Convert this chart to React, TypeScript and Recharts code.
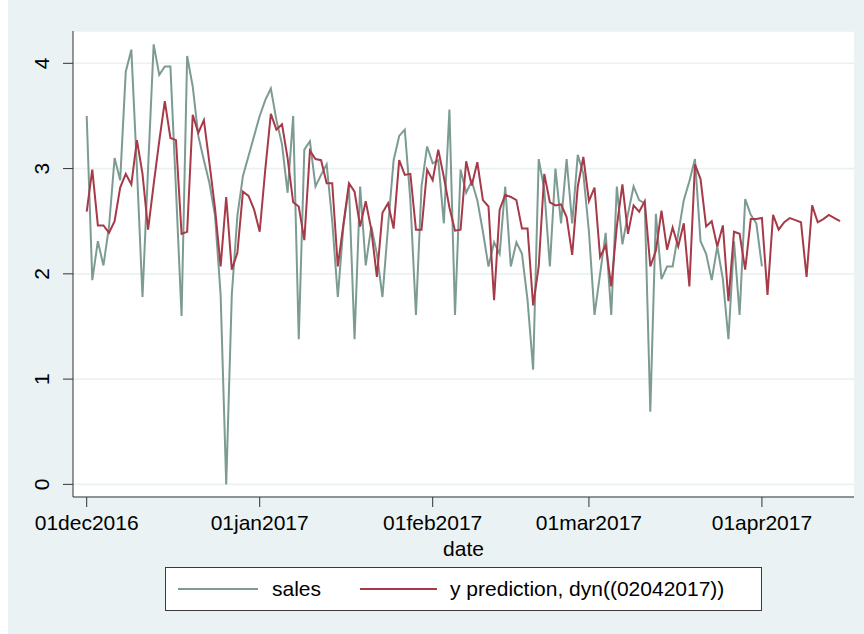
import React from 'react';
import { LineChart, Line, XAxis, YAxis, CartesianGrid, Legend } from 'recharts';

// daily values, index 0 = 01dec2016
const sales = [
  3.5, 1.94, 2.31, 2.08, 2.45, 3.1, 2.89, 3.92, 4.13, 3.0,
  1.78, 3.0, 4.18, 3.89, 3.97, 3.97, 2.8, 1.6, 4.07, 3.78,
  3.31, 3.08, 2.86, 2.55, 1.8, 0.0, 1.8, 2.55, 2.93, 3.12,
  3.31, 3.5, 3.65, 3.76, 3.46, 3.23, 2.77, 3.5, 1.38, 3.18,
  3.26, 2.83, 2.94, 3.04, 2.5, 1.78, 2.45, 2.83, 1.38, 2.83,
  2.08, 2.45, 2.19, 1.78, 2.45, 3.08, 3.31, 3.37, 2.7, 1.61,
  2.83, 3.21, 3.05, 3.08, 2.48, 3.56, 1.61, 2.99, 2.77, 2.88,
  2.7, 2.4, 2.07, 2.3, 2.19, 2.83, 2.07, 2.3, 2.19, 1.75,
  1.09, 3.09, 2.8, 2.07, 3.0, 2.48, 3.09, 2.48, 3.13, 2.95,
  2.4, 1.61, 2.0, 2.39, 1.61, 2.83, 2.28, 2.57, 2.83, 2.7,
  2.67, 0.69, 2.57, 1.95, 2.07, 2.07, 2.38, 2.7, 2.88, 3.09,
  2.31, 2.19, 1.94, 2.26, 1.95, 1.38, 2.31, 1.61, 2.71, 2.56,
  2.48, 2.07,
];

const prediction = [
  2.59, 2.99, 2.46, 2.46, 2.39, 2.5, 2.82, 2.95, 2.85, 3.27,
  2.95, 2.42, 2.85, 3.26, 3.64, 3.29, 3.27, 2.38, 2.4, 3.51,
  3.34, 3.46, 3.05, 2.62, 2.07, 2.73, 2.04, 2.2, 2.78, 2.74,
  2.61, 2.4, 2.99, 3.52, 3.37, 3.42, 3.1, 2.68, 2.64, 2.32,
  3.17, 3.09, 3.08, 2.86, 2.86, 2.07, 2.47, 2.86, 2.78, 2.45,
  2.69, 2.42, 1.97, 2.58, 2.67, 2.43, 3.08, 2.94, 2.95, 2.42,
  2.42, 2.99, 2.89, 3.18, 2.92, 2.63, 2.41, 2.42, 3.07, 2.84,
  3.06, 2.7, 2.64, 1.75, 2.61, 2.75, 2.73, 2.7, 2.43, 2.43,
  1.7, 2.07, 2.95, 2.68, 2.65, 2.66, 2.54, 2.18, 2.83, 3.11,
  2.69, 2.82, 2.16, 2.27, 1.88, 2.45, 2.85, 2.38, 2.65, 2.59,
  2.69, 2.07, 2.22, 2.6, 2.23, 2.44, 2.26, 2.48, 1.88, 3.04,
  2.9, 2.45, 2.5, 2.26, 2.46, 1.74, 2.4, 2.38, 2.04, 2.52,
  2.52, 2.53, 1.8, 2.56, 2.42, 2.49, 2.53, 2.51, 2.49, 1.97,
  2.65, 2.49, 2.52, 2.56, 2.53, 2.5,
];

const dateTicks = [0, 31, 62, 90, 121];
const dateLabels = ['01dec2016', '01jan2017', '01feb2017', '01mar2017', '01apr2017'];
const yTicks = [0, 1, 2, 3, 4];

const FONT = '"Liberation Sans", Arial, Helvetica, sans-serif';
const SALES_COLOR = '#7c9c93';
const PRED_COLOR = '#a63a48';
const BG = '#eaf2f3';

const data = prediction.map((p, i) => ({
  day: i,
  sales: i < sales.length ? sales[i] : null,
  pred: p,
}));

const YTick = (props: any) => {
  const { x, y, payload } = props;
  return (
    <text
      x={x}
      y={y}
      transform={`rotate(-90, ${x}, ${y})`}
      textAnchor="middle"
      dy={7.5}
      fontSize={21}
      fontFamily={FONT}
      fill="#000"
    >
      {payload.value}
    </text>
  );
};

const LegendBox = (props: any) => {
  const items = props.payload || [];
  return (
    <div
      style={{
        boxSizing: 'border-box',
        width: 597,
        height: 44,
        border: '1px solid #3a3a3a',
        background: '#fff',
        display: 'flex',
        alignItems: 'center',
        fontFamily: FONT,
        fontSize: 21,
        color: '#000',
      }}
    >
      {items.map((it: any, i: number) => (
        <React.Fragment key={it.value}>
          <span
            style={{
              display: 'inline-block',
              width: i === 0 ? 80 : 77,
              height: 2,
              background: it.color,
              marginLeft: i === 0 ? 12 : 39,
            }}
          />
          <span style={{ marginLeft: i === 0 ? 14 : 13 }}>{it.value}</span>
        </React.Fragment>
      ))}
    </div>
  );
};

export default function App() {
  return (
    <div style={{ position: 'absolute', left: 0, top: 0, width: 864, height: 634, background: '#fff' }}>
      <div style={{ position: 'absolute', left: 8, top: 0, width: 856, height: 634, background: BG }} />
      <div style={{ position: 'absolute', left: 0, top: 0 }}>
        <LineChart
          width={864}
          height={634}
          data={data}
          margin={{ top: 31, right: 10, bottom: 75, left: 0 }}
        >
          <CartesianGrid vertical={false} stroke={BG} strokeWidth={1.6} fill="#fff" />
          <XAxis
            dataKey="day"
            type="number"
            domain={[-2.455, 137.5]}
            allowDataOverflow
            ticks={dateTicks}
            tickFormatter={(v: number) => dateLabels[dateTicks.indexOf(v)]}
            interval={0}
            height={62}
            tickSize={10}
            tickMargin={8}
            stroke="#333"
            tick={{ fontSize: 21, fill: '#000', fontFamily: FONT }}
            label={{ value: 'date', position: 'insideBottom', offset: 3, fontSize: 21, fill: '#000', fontFamily: FONT }}
          />
          <YAxis
            type="number"
            domain={[-0.12, 4.307]}
            allowDataOverflow
            ticks={yTicks}
            interval={0}
            width={73}
            tickSize={10}
            tickMargin={21}
            stroke="#333"
            tick={<YTick />}
          />
          <Legend
            verticalAlign="middle"
            align="center"
            layout="horizontal"
            content={<LegendBox />}
            wrapperStyle={{ left: 165, top: 567, width: 597, height: 44 }}
          />
          <Line
            type="linear"
            dataKey="sales"
            name="sales"
            stroke={SALES_COLOR}
            strokeWidth={2}
            dot={false}
            activeDot={false}
            isAnimationActive={false}
          />
          <Line
            type="linear"
            dataKey="pred"
            name="y prediction, dyn((02042017))"
            stroke={PRED_COLOR}
            strokeWidth={2}
            dot={false}
            activeDot={false}
            isAnimationActive={false}
          />
        </LineChart>
      </div>
    </div>
  );
}
